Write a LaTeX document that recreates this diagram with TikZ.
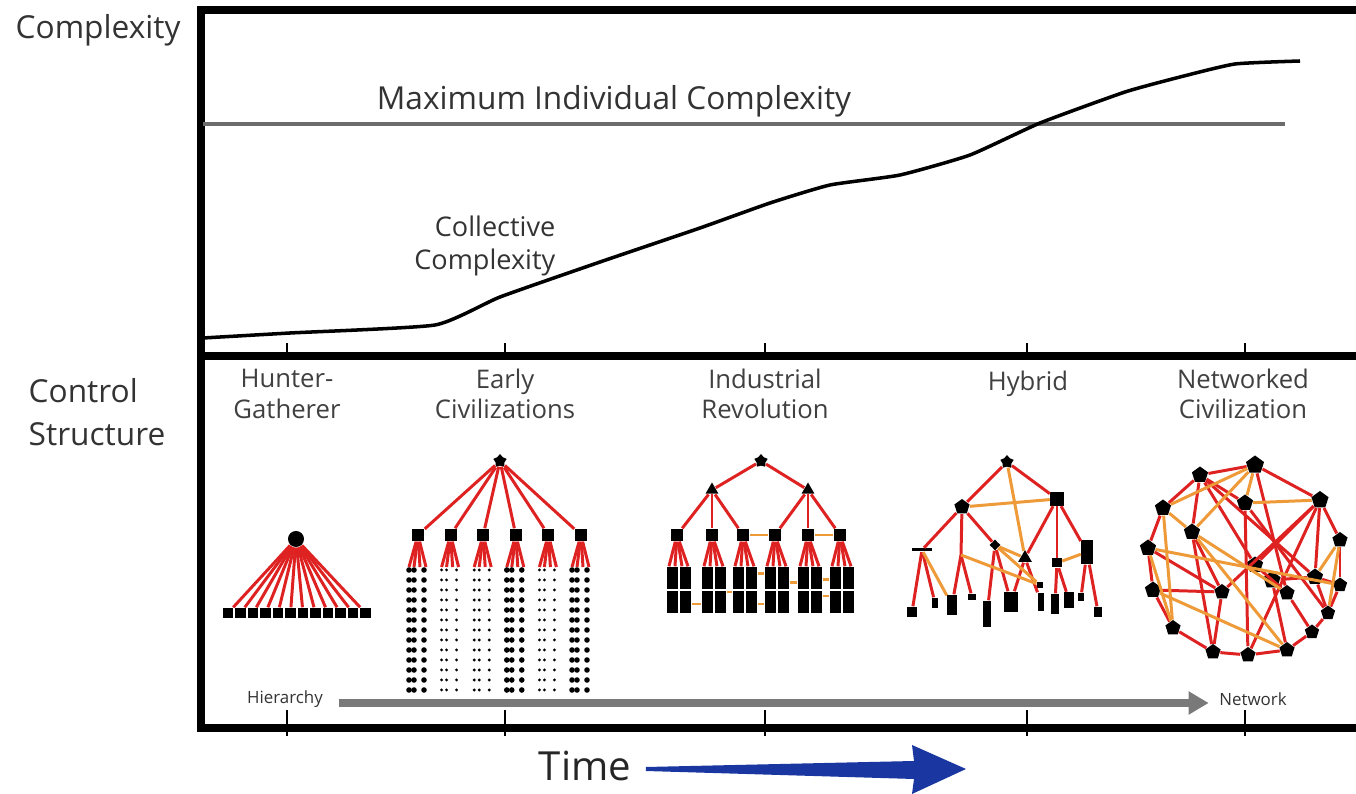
\documentclass[tikz,border=0pt]{standalone}
\usepackage{fontspec}
\setmainfont{Open Sans}
\usetikzlibrary{calc,positioning,arrows.meta,shapes.geometric}

\definecolor{linkred}{RGB}{222,34,34}
\definecolor{linkorange}{RGB}{238,154,56}
\definecolor{timeblue}{RGB}{26,54,160}

\begin{document}
\begin{tikzpicture}[
  x={(0.01cm,0)},y={(0,-0.01cm)},
  frame/.style={line width=2pt,line cap=rect},
  tick/.style={line width=0.7pt},
  caption/.style={font=\fontsize{9}{12.2}\selectfont,text=black!80,inner sep=0},
  era/.style={font=\fontsize{7.3}{8.6}\selectfont,text=black!75,align=center,inner sep=0},
  redlink/.style={draw=linkred,line width=0.85pt},
  orangelink/.style={draw=linkorange,line width=0.85pt},
  box/.style={rectangle,fill=black,inner sep=0,minimum size=0.11cm},
  topstar/.style={star,star points=5,fill=black,inner sep=0,minimum size=0.14cm},
  tri/.style={regular polygon,regular polygon sides=3,fill=black,inner sep=0,minimum size=0.15cm},
  blob/.style={regular polygon,regular polygon sides=5,fill=black,inner sep=0,minimum size=0.16cm},
  ]
  \useasboundingbox (0,0) rectangle (1356,794);

  %frame
  \draw[frame] (1356,10) -- (201,10) -- (201,728) -- (1356,728);
  \draw[frame] (201,356) -- (1356,356);
  \foreach \t in {287,505,765,1027,1245}
  {
    \draw[tick] (\t,356) -- (\t,343);
    \draw[tick] (\t,736) -- (\t,710);
  }

  %complexity panel
  \node (cplx_lbl) [caption,anchor=west] at (15,30) {Complexity};
  \draw[gray!85!black,line width=0.9pt] (203,124) -- (1285,124);
  \node (max_lbl) [caption] at (614,101) {Maximum Individual Complexity};
  \draw[line width=1pt,line join=round] plot[smooth,tension=0.3] coordinates
    {(203,338) (290,333) (435,325) (500,297) (600,262) (700,228) (770,203)
     (830,185) (900,175) (970,155) (1040,123) (1125,92) (1180,77) (1235,64) (1300,61)};
  \node (coll_lbl) [caption,font=\fontsize{7.7}{9.2}\selectfont,align=right,anchor=east] at (556,246) {Collective\\Complexity};

  %control panel
  \node (ctrl_lbl) [caption,align=left,anchor=west] at (28,412) {Control\\Structure};
  \node (era_0) [era] at (287,394) {Hunter-\\Gatherer};
  \node (era_1) [era] at (505,394) {Early\\Civilizations};
  \node (era_2) [era] at (765,394) {Industrial\\Revolution};
  \node (era_3) [era,anchor=north] at (1028,370) {Hybrid};
  \node (era_4) [era] at (1243,394) {Networked\\Civilization};

  %hunter-gatherer
  \node (hg_root) [circle,fill=black,inner sep=0,minimum size=0.16cm] at (296,539) {};
  \foreach \i in {0,...,11}
  {
    \node (hg_leaf_\i) [box,minimum size=0.1cm] at (228+12.5*\i,613) {};
    \draw[redlink] (hg_root) -- (hg_leaf_\i);
  }

  %early civilizations
  \node (ec_root) [topstar] at (500,461) {};
  \foreach \i/\rad in {0/0.028cm,1/0.016cm,2/0.016cm,3/0.028cm,4/0.016cm,5/0.028cm}
  {
    \node (ec_mid_\i) [box,minimum size=0.12cm] at (418+32.6*\i,535) {};
    \draw[redlink] (ec_root) -- (ec_mid_\i);
    \foreach \j/\dx in {0/-9,1/-4,2/2,3/8}
    {
      \coordinate (ec_tip_\i_\j) at ($(ec_mid_\i)+(\dx,32)$);
      \draw[redlink] (ec_mid_\i) -- (ec_tip_\i_\j);
    }
    %people
    \foreach \r in {0,...,12}
      \foreach \c in {-9,-4,6}
        \fill ($(ec_mid_\i)+(\c,35+10*\r)$) circle[radius=\rad];
  }

  %industrial revolution
  \node (ind_root) [topstar] at (761,461) {};
  \node (ind_tri_0) [tri] at (712,490) {};
  \node (ind_tri_1) [tri] at (808,490) {};
  \draw[redlink] (ind_root) -- (ind_tri_0);
  \draw[redlink] (ind_root) -- (ind_tri_1);
  \foreach \i/\x in {0/677,1/712,2/743,3/775,4/808,5/840}
  {
    \node (ind_sq_\i) [box,minimum size=0.12cm] at (\x,535) {};
    \node (ind_blk_\i) [rectangle,fill=black,inner sep=0,minimum width=0.24cm,minimum height=0.46cm] at (\x+2,590) {};
    \draw[white,line width=0.7pt] (ind_blk_\i.west) -- (ind_blk_\i.east);
    \draw[white,line width=0.7pt] (ind_blk_\i.north) -- (ind_blk_\i.south);
    \foreach \j/\dx in {0/-10,1/-4,2/3,3/9}
    {
      \coordinate (ind_tip_\i_\j) at ($(ind_blk_\i.north)+(\dx,0)$);
      \draw[redlink] (ind_sq_\i) -- (ind_tip_\i_\j);
    }
  }
  \foreach \i in {0,1,2}
    \draw[redlink] (ind_tri_0) -- (ind_sq_\i);
  \foreach \i in {3,4,5}
    \draw[redlink] (ind_tri_1) -- (ind_sq_\i);
  \draw[orangelink] (ind_sq_2) -- (ind_sq_3);
  \draw[orangelink] (ind_sq_4) -- (ind_sq_5);
  \foreach \a/\b/\h in {0/1/-0.14,1/2/-0.02,2/3/0.16,2/3/-0.14,3/4/0.07,4/5/0.1,4/5/-0.06}
    \draw[orangelink] ([yshift=\h cm]ind_blk_\a.east) -- ([yshift=\h cm]ind_blk_\b.west);

  %hybrid
  \node (hy_root) [topstar] at (1007,462) {};
  \node (hy_a) [blob] at (962,507) {};
  \node (hy_b) [box,minimum size=0.13cm] at (1057,499) {};
  \node (hy_c) [rectangle,fill=black,inner sep=0,minimum width=0.19cm,minimum height=0.03cm] at (922,550) {};
  \node (hy_d) [star,star points=4,fill=black,inner sep=0,minimum size=0.11cm] at (995,545) {};
  \node (hy_e) [tri,minimum size=0.16cm] at (1025,558) {};
  \node (hy_f) [box,minimum size=0.09cm] at (1057,563) {};
  \node (hy_g) [rectangle,fill=black,inner sep=0,minimum width=0.11cm,minimum height=0.24cm] at (1087,552) {};
  \node (hy_h) [box,minimum size=0.06cm] at (1040,585) {};
  \coordinate (hy_j) at (961,555);
  \foreach \n/\x/\y/\w/\h in {l1/912/612/0.1/0.1, l2/935/603/0.05/0.1, l3/952/605/0.09/0.2,
      l4/972/597/0.08/0.06, l5/987/614/0.07/0.26, l6/1011/602/0.13/0.2, l7/1041/602/0.06/0.18,
      l8/1055/604/0.08/0.2, l9/1069/600/0.1/0.15, l10/1081/597/0.06/0.08, l11/1098/612/0.07/0.1}
    \node (hy_\n) [rectangle,fill=black,inner sep=0,minimum width=\w cm,minimum height=\h cm] at (\x,\y) {};
  \foreach \a/\b in {root/a,root/b,a/c,a/d,c/l1,c/l2,d/l5,d/l6,b/e,b/f,b/g,e/l6,e/l7,f/l8,f/l9,g/l10,g/l11}
    \draw[redlink] (hy_\a) -- (hy_\b);
  \draw[redlink] (hy_a) -- (hy_j);
  \draw[redlink] (hy_j) -- (hy_l3);
  \draw[redlink] (hy_j) -- (hy_l4);
  \foreach \a/\b in {a/b,root/e,c/l3,d/e,d/h,f/g}
    \draw[orangelink] (hy_\a) -- (hy_\b);
  \draw[orangelink] (hy_j) -- (hy_h);

  %networked civilization
  \foreach \n/\x/\y/\s in {1/1255/465/0.19, 2/1200/475/0.17, 3/1320/500/0.18, 4/1163/508/0.17,
      5/1245/503/0.17, 6/1192/532/0.17, 7/1148/548/0.17, 8/1340/540/0.16, 9/1255/565/0.17,
      10/1272/580/0.18, 11/1315/577/0.17, 12/1153/590/0.17, 13/1222/592/0.16, 14/1287/593/0.16,
      15/1340/585/0.15, 16/1328/613/0.15, 17/1173/628/0.16, 18/1312/632/0.15, 19/1213/652/0.16,
      20/1248/655/0.16, 21/1287/650/0.16}
    \node (net_\n) [blob,minimum size=\s cm] at (\x,\y) {};
  \foreach \a/\b in {1/2,1/3,3/8,8/15,15/16,16/18,2/4,4/7,7/12,12/17,17/19,19/20,20/21,
      2/6,2/5,2/11,1/14,6/13,6/19,7/13,12/13,5/20,5/16,3/9,3/13,3/20,3/11,9/14,
      10/11,10/21,14/18,11/16,15/11,18/21,2/9,13/19}
    \draw[redlink] (net_\a) -- (net_\b);
  \foreach \a/\b in {1/5,1/6,4/1,4/17,4/6,6/14,6/21,12/21,8/11,8/16,7/17,5/3,7/15}
    \draw[orangelink] (net_\a) -- (net_\b);

  %hierarchy to network
  \node (hier_lbl) [font=\fontsize{4.8}{6}\selectfont,text=black!80,inner sep=0] at (285,699) {Hierarchy};
  \node (netw_lbl) [font=\fontsize{4.8}{6}\selectfont,text=black!80,inner sep=0] at (1253,699) {Network};
  \draw[gray!95!black,line width=2pt,-{Triangle[length=0.2cm,width=0.22cm]}]
    ([yshift=-0.04cm,xshift=0.15cm]hier_lbl.east) -- ([yshift=-0.04cm,xshift=-0.1cm]netw_lbl.west);

  %time
  \node (time_lbl) [font=\fontsize{11.4}{13}\selectfont,text=black!85,inner sep=0] at (585,766) {Time};
  \coordinate (time_tip) at (966,769);
  \fill[timeblue] ($(time_lbl.east)+(14,1)$) -- ($(time_tip)+(-52,-8)$) -- ($(time_tip)+(-54,-24)$)
    -- (time_tip) -- ($(time_tip)+(-54,25)$) -- ($(time_tip)+(-52,10)$) -- ($(time_lbl.east)+(14,5)$) -- cycle;

\end{tikzpicture}
\end{document}
